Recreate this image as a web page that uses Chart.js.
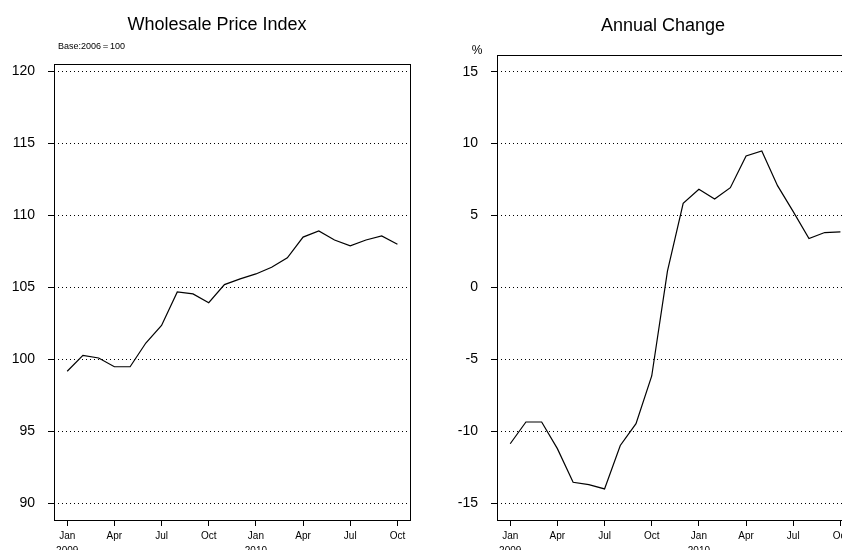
<!DOCTYPE html>
<html>
<head>
<meta charset="utf-8">
<script src="https://cdn.jsdelivr.net/npm/chart.js@4/dist/chart.umd.min.js"></script>
<style>
  html, body { margin: 0; padding: 0; background: #fff; overflow: hidden; }
  #left { position: absolute; left: 0; top: 0; width: 421px; height: 550px; }
  #right { position: absolute; left: 421px; top: 0; width: 450px; height: 550px; }
</style>
</head>
<body>
<div id="left"><canvas id="wpiChart"></canvas></div>
<div id="right"><canvas id="changeChart"></canvas></div>
<script>
// months Jan 2009 .. Oct 2010
const periods = ['2009-01', '2009-02', '2009-03', '2009-04', '2009-05', '2009-06',
                 '2009-07', '2009-08', '2009-09', '2009-10', '2009-11', '2009-12',
                 '2010-01', '2010-02', '2010-03', '2010-04', '2010-05', '2010-06',
                 '2010-07', '2010-08', '2010-09', '2010-10'];

// Wholesale price index (base 2006 = 100)
const wpiValues = [99.18, 100.28, 100.1, 99.49, 99.49, 101.14, 102.36, 104.69, 104.55, 103.94, 105.2,
                   105.6, 105.94, 106.4, 107.06, 108.5, 108.93, 108.3, 107.9, 108.3, 108.58, 108.0];

// annual change, %
const changeValues = [-10.86, -9.35, -9.35, -11.2, -13.54, -13.7, -14.0, -10.98, -9.46, -6.15, 1.14,
                      5.85, 6.83, 6.15, 6.94, 9.14, 9.49, 7.08, 5.27, 3.4, 3.82, 3.87];

// x axis ticks (index into periods) and their labels
const xTickIndex = [0, 3, 6, 9, 12, 15, 18, 21];
const xTickLabels = [['Jan', '2009'], 'Apr', 'Jul', 'Oct', ['Jan', '2010'], 'Apr', 'Jul', 'Oct'];

const wpiTicks = [90, 95, 100, 105, 110, 115, 120];
const changeTicks = [-15, -10, -5, 0, 5, 10, 15];

const FONT = 'Liberation Sans, Arial, Helvetica, sans-serif';

// draws the plot box and the free texts (titles, units)
const boxAndText = {
    id: 'boxAndText',
    afterDatasetsDraw(chart, args, opts) {
        const ctx = chart.ctx;
        const a = chart.chartArea;
        ctx.save();
        ctx.strokeStyle = '#000';
        ctx.lineWidth = 1;
        ctx.strokeRect(Math.round(a.left) + 0.5, Math.round(a.top) + 0.5,
                       Math.round(a.right - a.left), Math.round(a.bottom - a.top));
        ctx.fillStyle = '#000';
        (opts.items || []).forEach(t => {
            ctx.font = t.size + 'px ' + FONT;
            ctx.textAlign = t.align;
            ctx.textBaseline = 'alphabetic';
            ctx.fillText(t.text, t.x, t.y);
        });
        ctx.restore();
    }
};

function toPoints(values) {
    return values.map((v, i) => ({ x: i, y: v }));
}

function makeChart(canvasId, values, yTicks, yMin, yMax, layout, texts) {
    return new Chart(document.getElementById(canvasId), {
        type: 'line',
        data: {
            datasets: [{
                data: toPoints(values),
                borderColor: '#000',
                borderWidth: 1.2,
                pointRadius: 0,
                tension: 0,
                fill: false
            }]
        },
        options: {
            responsive: true,
            maintainAspectRatio: false,
            animation: false,
            layout: { padding: { left: 0, top: layout.top, right: layout.right, bottom: 0 } },
            plugins: {
                legend: { display: false },
                tooltip: { enabled: false },
                boxAndText: { items: texts }
            },
            scales: {
                x: {
                    type: 'linear',
                    min: -0.84,
                    max: 21.8,
                    afterFit: s => { s.height = 30; },
                    afterBuildTicks: s => { s.ticks = xTickIndex.map(v => ({ value: v })); },
                    border: { display: false },
                    grid: { drawOnChartArea: false, drawTicks: true, tickLength: 6, tickColor: '#000', tickWidth: 1 },
                    ticks: {
                        autoSkip: false,
                        maxRotation: 0,
                        padding: 3,
                        color: '#000',
                        font: { family: FONT, size: 10, lineHeight: 1.45 },
                        callback: (v) => xTickLabels[xTickIndex.indexOf(v)]
                    }
                },
                y: {
                    min: yMin,
                    max: yMax,
                    afterFit: s => { s.width = layout.yWidth; },
                    afterBuildTicks: s => { s.ticks = yTicks.map(v => ({ value: v })); },
                    border: { display: false, dash: [1, 3] },
                    grid: {
                        color: '#000',
                        lineWidth: 1,
                        tickLength: 6,
                        tickColor: '#000',
                        tickBorderDash: [],
                        tickWidth: 1
                    },
                    ticks: {
                        padding: 13,
                        color: '#000',
                        font: { family: FONT, size: 14 }
                    }
                }
            }
        },
        plugins: [boxAndText]
    });
}

makeChart('wpiChart', wpiValues, wpiTicks, 88.84, 120.53,
    { top: 64, right: 11, yWidth: 54 },
    [
        { text: 'Wholesale Price Index', x: 217, y: 30, size: 18, align: 'center' },
        { text: 'Base:2006＝100', x: 58, y: 48.5, size: 9, align: 'left' }
    ]);

makeChart('changeChart', changeValues, changeTicks, -16.16, 16.16,
    { top: 55, right: 18, yWidth: 76 },
    [
        { text: 'Annual Change', x: 242, y: 30.5, size: 18, align: 'center' },
        { text: '%', x: 56, y: 54, size: 12, align: 'center' }
    ]);
</script>
</body>
</html>
